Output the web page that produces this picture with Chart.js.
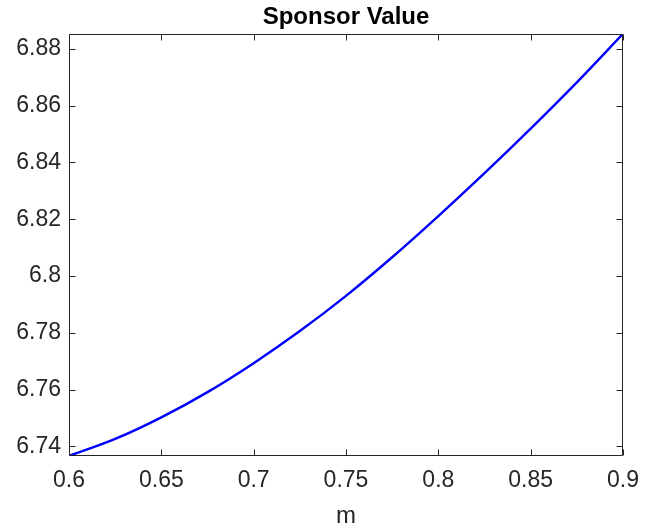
<!DOCTYPE html>
<html>
<head>
<meta charset="utf-8">
<title>Sponsor Value</title>
<script src="https://cdn.jsdelivr.net/npm/chart.js@4/dist/chart.umd.min.js"></script>
<style>
  html, body { margin: 0; padding: 0; background: #ffffff; }
  #wrap { width: 658px; height: 529px; }
</style>
</head>
<body>
<div id="wrap"><canvas id="c" width="658" height="529"></canvas></div>
<script>
// Sponsor value as a function of m
const mValues = [0.600, 0.625, 0.650, 0.675, 0.700, 0.725, 0.750, 0.775, 0.800, 0.825, 0.850, 0.875, 0.900];
const sponsorValue = [6.7366, 6.7426, 6.7502, 6.7591, 6.7693, 6.7806, 6.7930, 6.8066, 6.8211, 6.8362, 6.8519, 6.8682, 6.8853];

// Axis tick positions
const xTicks = [0.6, 0.65, 0.7, 0.75, 0.8, 0.85, 0.9];
const yTicks = [6.74, 6.76, 6.78, 6.8, 6.82, 6.84, 6.86, 6.88];
const xTickLabels = ['0.6', '0.65', '0.7', '0.75', '0.8', '0.85', '0.9'];
const yTickLabels = ['6.74', '6.76', '6.78', '6.8', '6.82', '6.84', '6.86', '6.88'];

const AXIS_COLOR = '#262626';
const FONT = 'Liberation Sans, Arial, Helvetica, sans-serif';

// Box around the plot area with inward tick marks on all four sides
const boxPlugin = {
  id: 'axesBox',
  afterDatasetsDraw(chart) {
    const { ctx, chartArea: a, scales } = chart;
    const L = Math.round(a.left) + 0.5, R = Math.round(a.right) - 0.5;
    const T = Math.round(a.top) + 0.5, B = Math.round(a.bottom) - 0.5;
    const len = 6;
    ctx.save();
    ctx.strokeStyle = AXIS_COLOR;
    ctx.lineWidth = 1;
    ctx.beginPath();
    ctx.rect(L, T, R - L, B - T);
    scales.x.ticks.forEach(t => {
      const px = Math.round(scales.x.getPixelForValue(t.value)) + 0.5;
      ctx.moveTo(px, B); ctx.lineTo(px, B - len);
      ctx.moveTo(px, T); ctx.lineTo(px, T + len);
    });
    scales.y.ticks.forEach(t => {
      const py = Math.round(scales.y.getPixelForValue(t.value)) + 0.5;
      ctx.moveTo(L, py); ctx.lineTo(L + len, py);
      ctx.moveTo(R, py); ctx.lineTo(R - len, py);
    });
    ctx.stroke();
    ctx.restore();
  }
};

new Chart(document.getElementById('c'), {
  type: 'line',
  data: {
    datasets: [{
      data: mValues.map((m, i) => ({ x: m, y: sponsorValue[i] })),
      borderColor: '#0000ff',
      borderWidth: 2.4,
      pointRadius: 0,
      cubicInterpolationMode: 'monotone',
      fill: false
    }]
  },
  options: {
    responsive: false,
    animation: false,
    devicePixelRatio: 1,
    layout: { padding: { left: 0, right: 35, top: 0, bottom: 0 } },
    plugins: {
      legend: { display: false },
      tooltip: { enabled: false },
      title: {
        display: true,
        text: 'Sponsor Value',
        fullSize: false,
        color: '#000000',
        font: { family: FONT, size: 24, weight: 'bold', lineHeight: 1.2 },
        padding: { top: 3, bottom: 2 }
      }
    },
    scales: {
      x: {
        type: 'linear',
        min: 0.6,
        max: 0.9,
        grid: { display: false, drawTicks: false },
        border: { display: false },
        afterFit(scale) { scale.height = 73; },
        afterBuildTicks(scale) { scale.ticks = xTicks.map(v => ({ value: v })); },
        ticks: {
          color: AXIS_COLOR,
          padding: 11,
          maxRotation: 0,
          font: { family: FONT, size: 23 },
          callback: (v) => xTickLabels[xTicks.findIndex(t => Math.abs(t - v) < 1e-9)]
        },
        title: {
          display: true,
          text: 'm',
          color: AXIS_COLOR,
          font: { family: FONT, size: 24 },
          padding: { top: 0, bottom: -2 }
        }
      },
      y: {
        type: 'linear',
        min: 6.7366,
        max: 6.8853,
        grid: { display: false, drawTicks: false },
        border: { display: false },
        afterFit(scale) { scale.width = 69; },
        afterBuildTicks(scale) { scale.ticks = yTicks.map(v => ({ value: v })); },
        ticks: {
          color: AXIS_COLOR,
          padding: 8,
          font: { family: FONT, size: 23 },
          callback: (v) => yTickLabels[yTicks.findIndex(t => Math.abs(t - v) < 1e-9)]
        }
      }
    }
  },
  plugins: [boxPlugin]
});
</script>
</body>
</html>
